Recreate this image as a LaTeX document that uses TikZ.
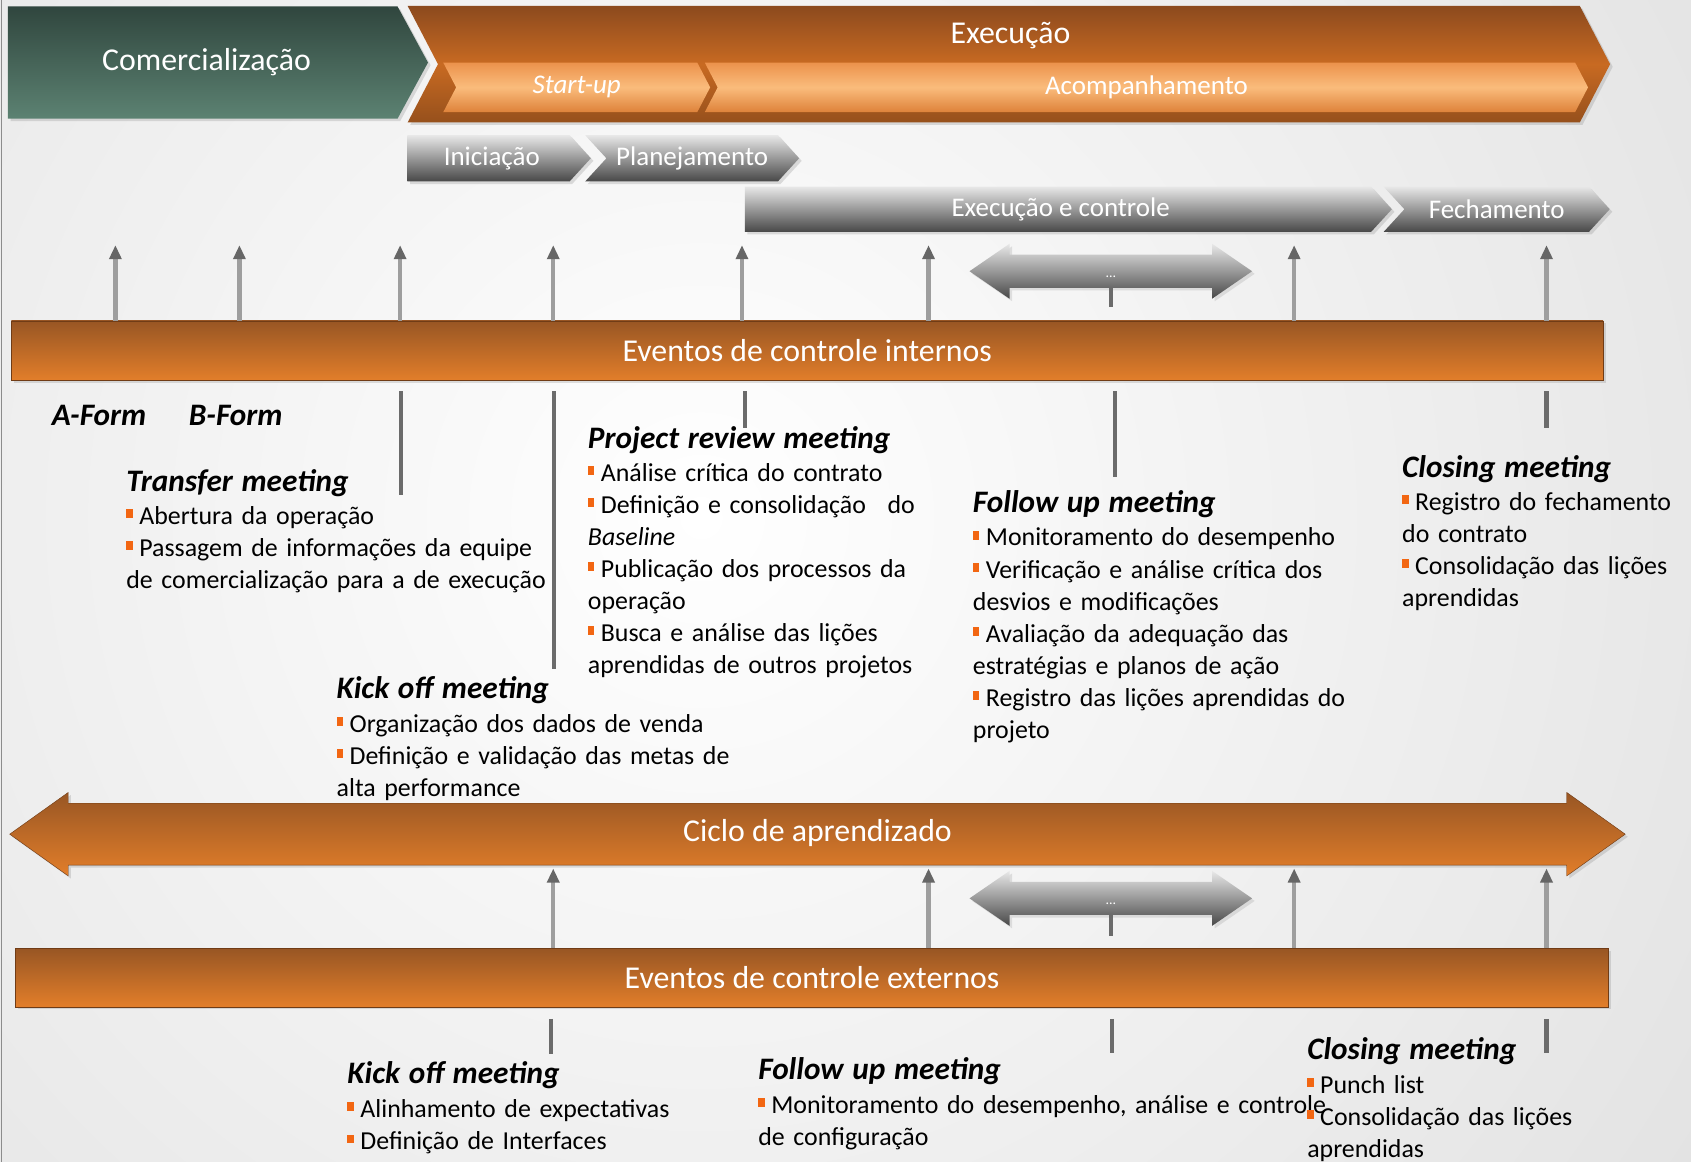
\documentclass[tikz,border=0pt]{standalone}
\usepackage{fontspec}
\setmainfont{Carlito}
\usetikzlibrary{shapes.symbols,shapes.arrows,arrows.meta,shadows,positioning}

\definecolor{verdetop}{RGB}{48,70,62}
\definecolor{verdebot}{RGB}{92,130,114}
\definecolor{laranjatop}{RGB}{140,74,30}
\definecolor{laranjamid}{RGB}{200,106,34}
\definecolor{laranjabot}{RGB}{150,80,28}
\definecolor{claratop}{RGB}{236,146,76}
\definecolor{claramid}{RGB}{250,188,124}
\definecolor{clarabot}{RGB}{222,130,58}
\definecolor{cinzatop}{RGB}{232,232,232}
\definecolor{cinzabot}{RGB}{72,72,72}
\definecolor{barratop}{RGB}{152,86,36}
\definecolor{barrabot}{RGB}{226,126,42}
\definecolor{barraborda}{RGB}{112,60,22}
\definecolor{marca}{RGB}{242,102,18}

\newcommand{\marca}{\raisebox{6pt}{\textcolor{marca}{\rule{6pt}{8pt}}}\hspace{6pt}}
\newcommand{\titulo}{\fontsize{29}{34}\selectfont\bfseries\itshape}

\begin{document}
\begin{tikzpicture}[x=1pt,y=-1pt]
\tikzstyle{fase} = [signal, signal pointer angle=123, inner sep=0pt, text=white,
font=\fontsize{29.5}{34}\selectfont, drop shadow={opacity=0.25}]
\tikzstyle{subfase} = [signal, signal from=west, signal pointer angle=125, inner sep=0pt,
text=white, font=\fontsize{25}{30}\selectfont, top color=claratop, bottom color=clarabot,
middle color=claramid, minimum height=46pt]
\tikzstyle{etapa} = [signal, signal pointer angle=95, inner sep=0pt, text=white,
font=\fontsize{25}{30}\selectfont, top color=cinzatop, bottom color=cinzabot,
minimum height=43pt, drop shadow={opacity=0.25}]
\tikzstyle{barra} = [rectangle, inner sep=0pt, text=white, font=\fontsize{29.5}{34}\selectfont,
top color=barratop, bottom color=barrabot, draw=barraborda, drop shadow={opacity=0.25}]
\tikzstyle{ciclo} = [double arrow, double arrow tip angle=71, double arrow head extend=10pt,
inner xsep=0pt, inner ysep=15pt, text height=20pt, text depth=7pt, text=white,
font=\fontsize{29.5}{34}\selectfont,
top color=barratop, bottom color=barrabot, draw=barraborda, drop shadow={opacity=0.25}]
\tikzstyle{reticencias} = [double arrow, double arrow tip angle=69, double arrow head extend=10pt,
inner xsep=0pt, inner ysep=9pt, text height=12pt, text depth=0pt, text=white,
font=\fontsize{13}{15}\selectfont,
top color=cinzatop, bottom color=cinzabot, drop shadow={opacity=0.2}]
\tikzstyle{sobe} = [draw=black!38, line width=4pt, -{Triangle[width=11pt,length=13pt,color=black!60]}]
\tikzstyle{haste} = [draw=black!58, line width=4pt]
\tikzstyle{bloco} = [inner sep=0pt, anchor=north west, align=left, text width=600pt,
font=\fontsize{24}{29.7}\selectfont]
\tikzstyle{form} = [inner sep=0pt, anchor=west, font=\titulo]

% fundo
\useasboundingbox (0,0) rectangle (1568,1077);
\begin{scope}
\clip (0,0) rectangle (1568,1077);
\fill[black!20] (0,0) rectangle (1568,1077);
\shade[inner color=white, outer color=black!20] (650,480) circle (2000pt);
\end{scope}
\draw[black!45, line width=1pt] (1,0) -- (1,1077);

% fases
\node[fase, top color=verdetop, bottom color=verdebot, minimum width=389.5pt,
minimum height=104pt] (com) at (188,58) {\hspace{7pt}Comercialização};
\node[fase, signal from=west, signal pointer angle=125, top color=laranjatop, bottom color=laranjabot,
middle color=laranjamid, minimum width=1115pt, minimum height=108pt] (exe) at (935.5,59.5) {};
\node[text=white, font=\fontsize{29.5}{34}\selectfont] (exelbl) at (937,33) {Execução};
\node[subfase, minimum width=247.5pt] (startup) at (534.75,81) {\itshape Start-up};
\node[subfase, minimum width=819pt] (acomp) at (1063,81) {Acompanhamento};

% etapas
\node[etapa, minimum width=170pt] (ini) at (453,146.75) {\hspace{6pt}Iniciação};
\node[etapa, signal from=west, minimum width=198.4pt] (plan) at (641.8,146.75) {Planejamento};
\node[etapa, minimum width=600pt, minimum height=42pt] (exc) at (981,194) {\hspace{5pt}Execução e controle};
\node[etapa, signal from=west, minimum width=209.6pt, minimum height=42pt] (fech) at (1387.8,194) {Fechamento};

% eventos internos
\node[barra, minimum width=1476pt, minimum height=55pt] (interno) at (748.5,325) {Eventos de controle internos};
\foreach \x in {107,222,371,513,688,861,1200,1434}
  \draw[sobe] (\x,0 |- interno.north) -- ++(0,-70);
\node[reticencias, minimum height=262pt, minimum width=51pt] (ret1) at (1030,251.5) {...};
\draw[haste] (ret1.south) -- ++(0,18);
\foreach \x/\c in {372/96,514/258,691/34,1034/80,1434/34}
  \draw[haste] (\x,0 |- interno.south) ++(0,10) -- ++(0,\c);

\node[form] (aform) at (48,385) {A-Form};
\node[form] (bform) at (175,385) {B-Form};

\node[bloco] (transfer) at (117,435) {{\titulo Transfer meeting}\\[1pt]
\marca Abertura da operação\\
\marca Passagem de informações da equipe\\
de comercialização para a de execução};

\node[bloco] (review) at (545,395) {{\titulo Project review meeting}\\[1pt]
\marca Análise crítica do contrato\\
\marca Definição e consolidação\hspace{12pt} do\\
\textit{Baseline}\\
\marca Publicação dos processos da\\
operação\\
\marca Busca e análise das lições\\
aprendidas de outros projetos};

\node[bloco] (followi) at (902,455) {{\titulo Follow up meeting}\\[1pt]
\marca Monitoramento do desempenho\\
\marca Verificação e análise crítica dos\\
desvios e modificações\\
\marca Avaliação da adequação das\\
estratégias e planos de ação\\
\marca Registro das lições aprendidas do\\
projeto};

\node[bloco] (closingi) at (1300,422) {{\titulo Closing meeting}\\[1pt]
\marca Registro do fechamento\\
do contrato\\
\marca Consolidação das lições\\
aprendidas};

\node[bloco] (kickoffi) at (312,627) {{\titulo Kick off meeting}\\[2pt]
\marca Organização dos dados de venda\\
\marca Definição e validação das metas de\\
alta performance};

% ciclo
\node[ciclo, minimum height=1498pt, minimum width=77pt] (ciclo) at (758,773.5) {Ciclo de aprendizado};

% eventos externos
\node[barra, minimum width=1477pt, minimum height=54pt] (externo) at (753,906.5) {Eventos de controle externos};
\foreach \x in {513,861,1200,1434}
  \draw[sobe] (\x,0 |- externo.north) -- ++(0,-74);
\node[reticencias, minimum height=262pt, minimum width=51pt] (ret2) at (1030,833) {...};
\draw[haste] (ret2.south) -- ++(0,19);
\foreach \x/\c in {511/33,1031/32,1434/32}
  \draw[haste] (\x,0 |- externo.south) ++(0,11) -- ++(0,\c);

\node[bloco] (kickoffe) at (322,984) {{\titulo Kick off meeting}\\[2pt]
\marca Alinhamento de expectativas\\
\marca Definição de Interfaces};

\node[bloco] (followe) at (703,980) {{\titulo Follow up meeting}\\[2pt]
\marca Monitoramento do desempenho, análise e controle\\
de configuração};

\node[bloco] (closinge) at (1212,962) {{\titulo Closing meeting}\\[1.5pt]
\marca Punch list\\
\marca Consolidação das lições\\
aprendidas};

\end{tikzpicture}
\end{document}
